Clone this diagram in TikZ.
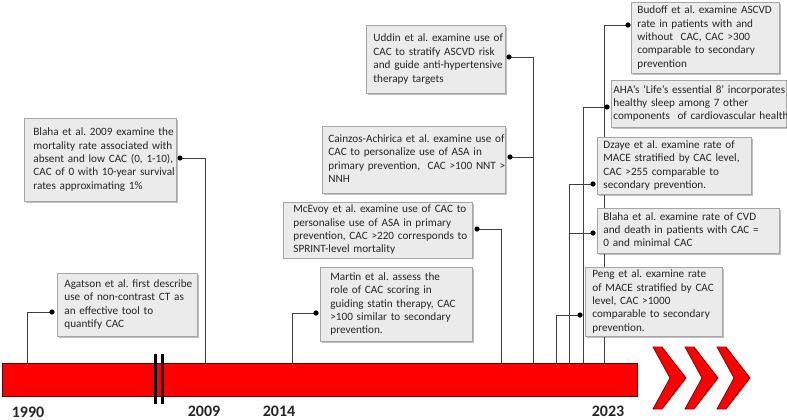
\documentclass[tikz,border=0pt]{standalone}
\usepackage{fontspec}
\setmainfont{Carlito}
\usetikzlibrary{shadows}
\definecolor{boxfill}{HTML}{EBEBEB}
\definecolor{boxline}{HTML}{A6A6A6}
\definecolor{txt}{HTML}{262626}
\definecolor{conn}{HTML}{404040}
\definecolor{barred}{HTML}{FF0000}
\definecolor{chevline}{HTML}{8B0000}
\newcommand\evlines[1]{\begin{tabular}{@{}l@{}}#1\end{tabular}}
\frenchspacing
\begin{document}
\frenchspacing
\begin{tikzpicture}[x=1pt,y=-1pt,
  evt/.style={draw=boxline, fill=boxfill, line width=0.8pt, anchor=north west,
    inner ysep=1pt, text=txt, font=\fontsize{11.2}{13.4}\selectfont, align=left,
    drop shadow={shadow xshift=1.2pt, shadow yshift=-1.2pt, opacity=0.25, fill=black}},
  link/.style={draw=conn, line width=0.9pt},
  yr/.style={font=\fontsize{16}{18}\selectfont\bfseries, text=txt, inner sep=0pt},
  barbox/.style={draw=black!60!red, fill=barred, line width=0.8pt, anchor=north west,
    inner sep=0pt, minimum width=635pt, minimum height=33pt},
  chev/.style={fill=barred, draw=chevline, line width=0.8pt},
  brk/.style={draw=black, line width=3pt}
]
\useasboundingbox (0,0) rectangle (787,420);

% dot and tap coordinates
\coordinate (d09) at (180,158);  \coordinate (t09) at (205,363);
\coordinate (dag) at (52,312);   \coordinate (tag) at (27,363);
\coordinate (dma) at (316,313);  \coordinate (tma) at (292,363);
\coordinate (dmc) at (477,229);  \coordinate (tmc) at (501,363);
\coordinate (dca) at (510,157);  \coordinate (jud) at (533,157);
\coordinate (dud) at (509,57);   \coordinate (tud) at (533,363);
\coordinate (dbu) at (628,25);   \coordinate (tbu) at (604,363);
\coordinate (dah) at (607,107);  \coordinate (tah) at (583,363);
\coordinate (ddz) at (593,184);  \coordinate (tdz) at (569,363);
\coordinate (dbl) at (593,233);  \coordinate (jbl) at (569,233);
\coordinate (dpe) at (580,315);  \coordinate (tpe) at (556,363);

% connectors
\draw[link] (d09) -| (t09);
\draw[link] (dag) -| (tag);
\draw[link] (dma) -| (tma);
\draw[link] (dmc) -| (tmc);
\draw[link] (dud) -| (tud);
\draw[link] (dca) -- (jud);
\draw[link] (dbu) -| (tbu);
\draw[link] (dah) -| (tah);
\draw[link] (ddz) -| (tdz);
\draw[link] (dbl) -- (jbl);
\draw[link] (dpe) -| (tpe);

% timeline bar
\node[barbox] (bar) at (2,363) {};
\draw[brk] (155,354) -- (155,404);
\draw[brk] (162,354) -- (162,404);

% chevrons
\foreach \c in {653,685,717}
  \filldraw[chev] (\c,347) -- ++(9,0) -- ++(24,31) -- ++(-24,31) -- ++(-9,0) -- ++(17,-31) -- cycle;

% years
\node[yr] (y1990) at (28,412) {1990};
\node[yr] (y2009) at (204,411) {2009};
\node[yr] (y2014) at (279,411) {2014};
\node[yr] (y2023) at (608,411) {2023};

% event boxes
\node[evt, inner xsep=9pt, text width=134pt, minimum height=83pt] (b09) at (24,118)
 {\evlines{Blaha et al. 2009 examine the\\mortality rate associated with\\absent and low CAC (0, 1-10),\\CAC of 0 with 10-year survival\\rates approximating 1\%}};
\node[evt, inner xsep=7pt, text width=126pt, minimum height=63pt] (bag) at (57,273)
 {\evlines{Agatson et al. first describe\\use of non-contrast CT as\\an effective tool to\\quantify CAC}};
\node[evt, inner xsep=10pt, text width=132pt, minimum height=74pt] (bma) at (320,267)
 {\evlines{Martin et al. assess the\\role of CAC scoring in\\guiding statin therapy, CAC\\>100 similar to secondary\\prevention.}};
\node[evt, inner xsep=10pt, text width=169pt, minimum height=55pt] (bmc) at (283,202)
 {\evlines{McEvoy et al. examine use of CAC to\\personalise use of ASA in primary\\prevention, CAC >220 corresponds to\\SPRINT-level mortality}};
\node[evt, inner xsep=6pt, text width=171pt, minimum height=67pt] (bca) at (322,126)
 {\evlines{Cainzos-Achirica et al. examine use of\\CAC to personalize use of ASA in\\primary prevention,\ \ CAC >100 NNT >\\NNH}};
\node[evt, inner xsep=7pt, text width=125pt, minimum height=68pt] (bud) at (366,25)
 {\evlines{Uddin et al. examine use of\\CAC to stratify ASCVD risk\\and guide anti-hypertensive\\therapy targets}};
\node[evt, inner xsep=6pt, text width=136pt, minimum height=71pt] (bbu) at (631,2)
 {\evlines{Budoff et al. examine ASCVD\\rate in patients with and\\without\ \ CAC, CAC >300\\comparable to secondary\\prevention}};
\node[evt, inner xsep=2pt, text width=171pt, minimum height=47pt] (bah) at (611,80)
 {\evlines{AHA’s ‘Life’s essential 8’ incorporates\\healthy sleep among 7 other\\components\ \ of cardiovascular health}};
\node[evt, inner xsep=6pt, text width=142pt, minimum height=57pt] (bdz) at (597,137)
 {\evlines{Dzaye et al. examine rate of\\MACE stratified by CAC level,\\CAC >255 comparable to\\secondary prevention.}};
\node[evt, inner xsep=6pt, text width=170pt, minimum height=45pt] (bbl) at (597,208)
 {\evlines{Blaha et al. examine rate of CVD\\and death in patients with CAC =\\0 and minimal CAC}};
\node[evt, inner xsep=7pt, text width=123pt, minimum height=67pt] (bpe) at (585,267)
 {\evlines{Peng et al. examine rate\\of MACE stratified by CAC\\level, CAC >1000\\comparable to secondary\\prevention.}};

% dots
\foreach \d in {d09,dag,dma,dmc,dca,dud,dbu,dah,ddz,dbl,dpe}
  \fill[black] (\d) circle (2.6pt);
\end{tikzpicture}
\end{document}
